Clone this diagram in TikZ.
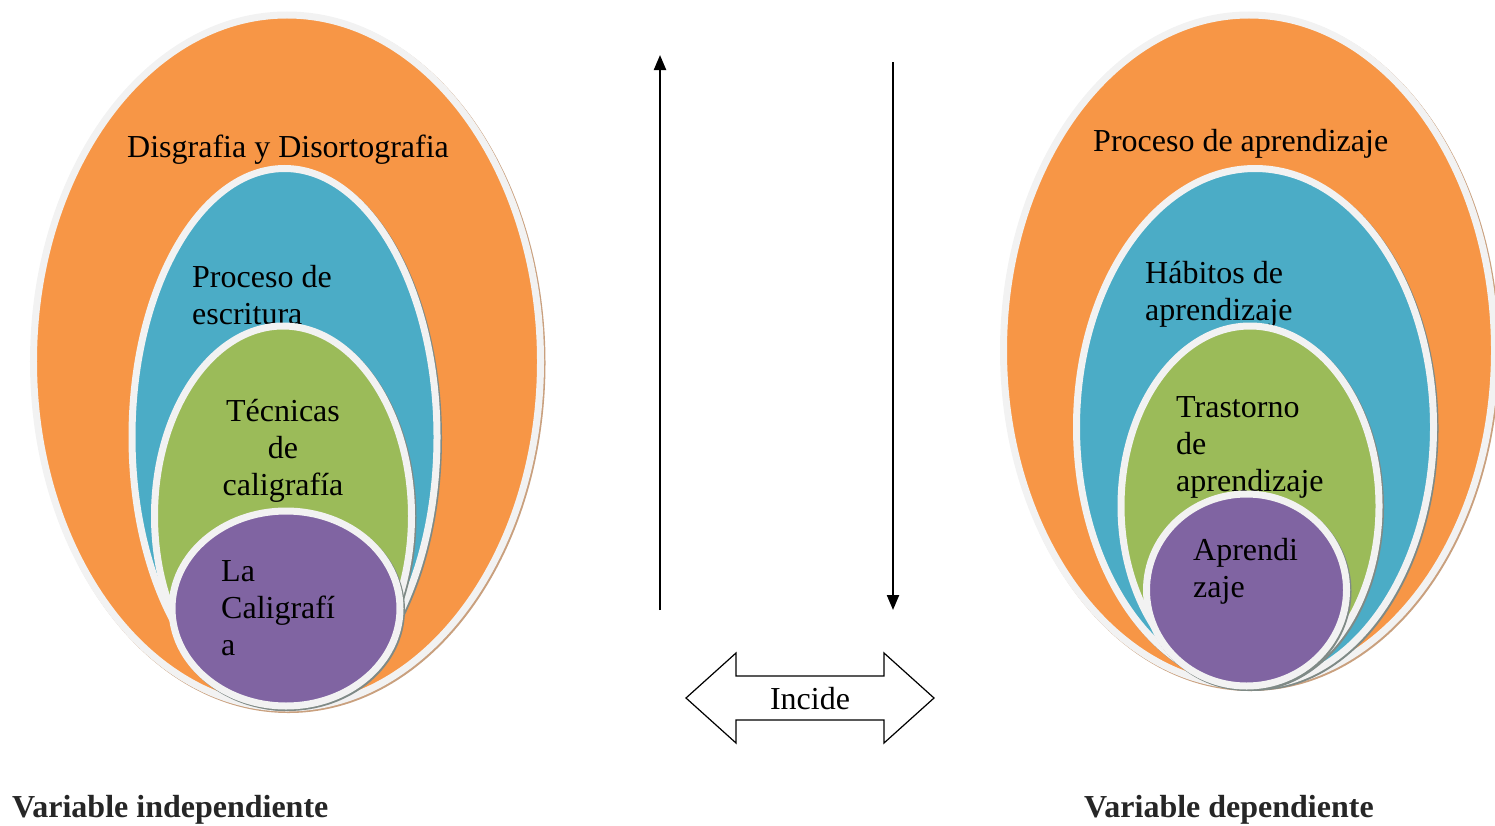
\documentclass[tikz,border=0pt]{standalone}
\usepackage{fontspec}
\setmainfont{Liberation Serif}
\usetikzlibrary{arrows.meta,shapes.geometric}

\definecolor{naranja}{HTML}{F79646}
\definecolor{azul}{HTML}{4BACC6}
\definecolor{verde}{HTML}{9BBB59}
\definecolor{morado}{HTML}{8064A2}
\definecolor{borde}{HTML}{F2F2F2}
\definecolor{sombraN}{HTML}{C9A07E}
\definecolor{sombraG}{HTML}{7F8A86}

\begin{document}
\begin{tikzpicture}[x=1bp,y=-1bp,font=\fontsize{32bp}{37bp}\selectfont]
  \tikzstyle{ovalo}=[ellipse, draw=borde, line width=7bp, inner sep=0pt]
  \tikzstyle{sombra}=[preaction={draw=#1, line width=7bp, transform canvas={shift={(1.5bp,-1.5bp)}}}]
  \tikzstyle{texto}=[inner sep=0pt, align=left, anchor=base west]
  \tikzstyle{flecha}=[line width=2.2bp, -{Triangle[length=15bp,width=12bp]}]

  \useasboundingbox (0,0) rectangle (1495,825);

  % variable independiente
  \node[ovalo, sombra=sombraN, fill=naranja, minimum width=507bp, minimum height=693bp] (oi1) at (287,361.5) {};
  \node[texto] (ti1) at (127,157) {Disgrafia y Disortografia};
  \node[ovalo, sombra=sombraG, fill=azul, minimum width=305bp, minimum height=537bp] (oi2) at (284.5,437) {};
  \node[texto] (ti2) at (192,324) {Proceso de\\escritura};
  \node[ovalo, sombra=sombraG, fill=verde, minimum width=257bp, minimum height=380bp] (oi3) at (283,516) {};
  \node[texto, align=center, anchor=base] (ti3) at (283,495) {Técnicas\\de\\caligrafía};
  \node[ovalo, sombra=sombraG, fill=morado, minimum width=228bp, minimum height=195bp] (oi4) at (286,608.5) {};
  \node[texto] (ti4) at (221,655) {La\\Caligrafí\\a};

  % variable dependiente
  \node[ovalo, sombra=sombraN, fill=naranja, minimum width=491bp, minimum height=671bp] (od1) at (1249,350.5) {};
  \node[texto] (td1) at (1093,151) {Proceso de aprendizaje};
  \node[ovalo, sombra=sombraG, fill=azul, minimum width=357bp, minimum height=517bp] (od2) at (1255,427) {};
  \node[texto] (td2) at (1145,320) {Hábitos de\\aprendizaje};
  \node[ovalo, sombra=sombraG, fill=verde, minimum width=258bp, minimum height=360bp] (od3) at (1250,506) {};
  \node[texto] (td3) at (1176,491) {Trastorno\\de\\aprendizaje};
  \node[ovalo, sombra=sombraG, fill=morado, minimum width=200bp, minimum height=192bp] (od4) at (1246.5,590) {};
  \node[texto] (td4) at (1193,597) {Aprendi\\zaje};

  % flechas
  \coordinate (subeA) at (660,610);
  \coordinate (subeB) at (660,55);
  \coordinate (bajaA) at (893,62);
  \coordinate (bajaB) at (893,610);
  \draw[flecha] (subeA) -- (subeB);
  \draw[flecha] (bajaA) -- (bajaB);

  \draw[line width=1.2bp, line join=miter] (686,698) -- (736,653) -- (736,676) -- (884,676) -- (884,653)
    -- (934,698) -- (884,743) -- (884,720) -- (736,720) -- (736,743) -- cycle;
  \node[inner sep=0pt] (incide) at (810,699) {Incide};

  \node[texto, font=\fontsize{32bp}{37bp}\selectfont\bfseries, text=black!85] (vi) at (12,817) {Variable independiente};
  \node[texto, font=\fontsize{32bp}{37bp}\selectfont\bfseries, text=black!85] (vd) at (1084,817) {Variable dependiente};
\end{tikzpicture}
\end{document}
